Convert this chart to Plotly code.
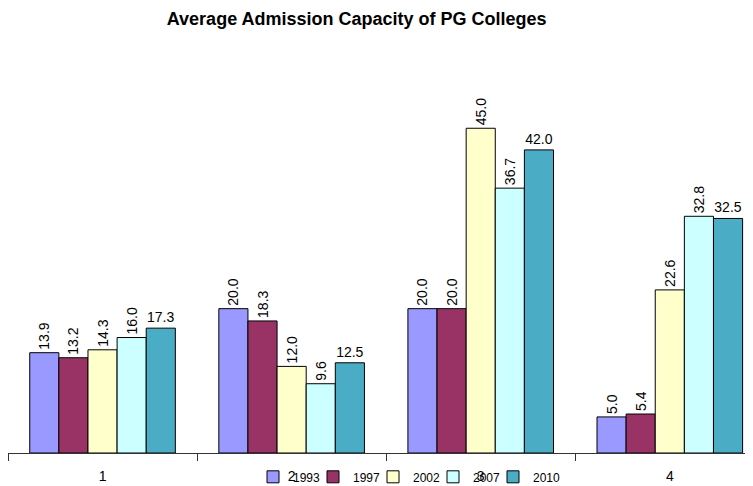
import plotly.graph_objects as go

categories = ["1", "2", "3", "4"]
series_names = ["1993", "1997", "2002", "2007", "2010"]
v1993 = [13.9, 20.0, 20.0, 5.0]
v1997 = [13.2, 18.3, 20.0, 5.4]
v2002 = [14.3, 12.0, 45.0, 22.6]
v2007 = [16.0, 9.6, 36.7, 32.8]
v2010 = [17.3, 12.5, 42.0, 32.5]
values = [v1993, v1997, v2002, v2007, v2010]
colors = ["#9999FF", "#993366", "#FFFFCC", "#CCFFFF", "#4BACC6"]
angles = [-90, -90, -90, -90, 0]

FONT = "Liberation Sans, Arial, sans-serif"

W, H = 745, 478
legend_ids = ["legend", "legend2", "legend3", "legend4", "legend5"]

fig = go.Figure()
for name, vals, col, ang, lid in zip(series_names, values, colors, angles, legend_ids):
    fig.add_trace(go.Bar(
        x=categories, y=vals, name=name, legend=lid,
        marker=dict(color=col, line=dict(color="#000000", width=1)),
        text=[f"{v:.1f}" for v in vals],
        textposition="outside", textangle=ang,
        textfont=dict(family=FONT, size=14, color="#000000"),
        cliponaxis=False,
    ))

legend_layout = {}
for i, lid in enumerate(legend_ids):
    legend_layout[lid] = dict(
        orientation="h", x=(245 + 60 * i) / W, xanchor="left",
        y=-0.055, yanchor="middle", bgcolor="rgba(0,0,0,0)",
        font=dict(family=FONT, size=12, color="#000000"),
        itemwidth=30,
    )

fig.update_layout(
    width=W, height=H,
    margin=dict(l=0, r=0, t=12, b=33, autoexpand=False),
    paper_bgcolor="white", plot_bgcolor="white",
    barmode="group", bargap=0.23, bargroupgap=0,
    title=dict(text="<b>Average Admission Capacity of PG Colleges</b>",
               x=0.468, xanchor="center", y=0.977, yanchor="middle",
               font=dict(family=FONT, size=18, color="#000000")),
    xaxis=dict(type="category", range=[-0.5, 3.44], tickson="boundaries",
               ticks="outside", ticklen=7, tickcolor="#333333",
               showline=True, linecolor="#333333", linewidth=1,
               showgrid=False, ticklabelstandoff=10,
               tickfont=dict(family=FONT, size=14, color="#000000")),
    yaxis=dict(range=[0, 60], visible=False, showgrid=False),
    showlegend=True,
    font=dict(family=FONT),
    **legend_layout,
)

fig.write_html("out.html")
